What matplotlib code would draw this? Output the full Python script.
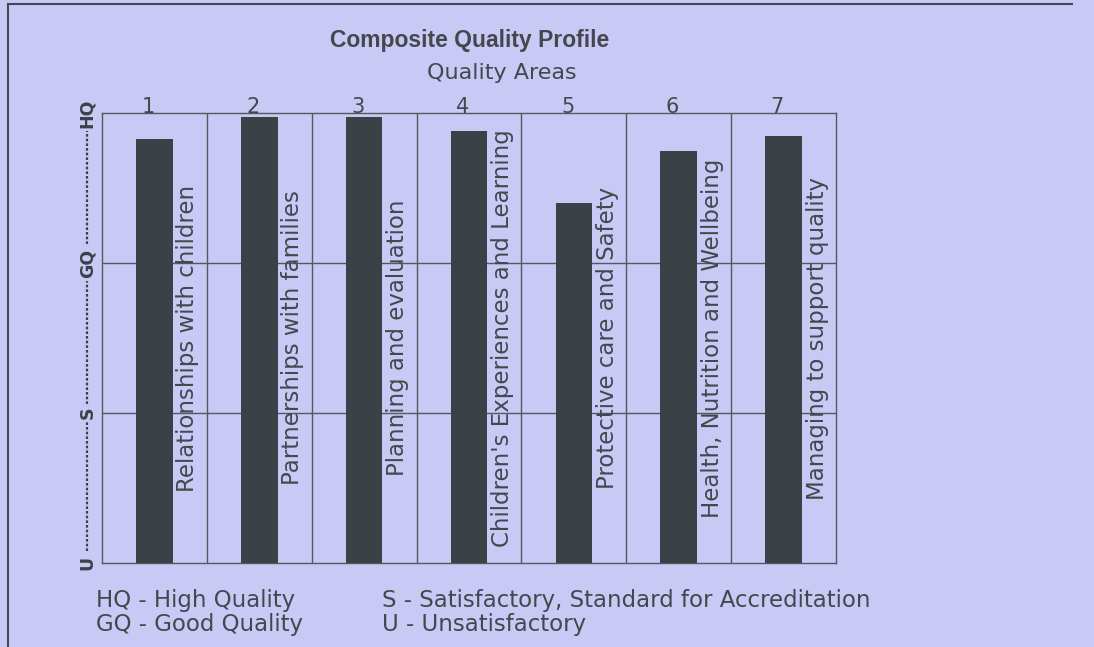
import matplotlib.pyplot as plt
from matplotlib.transforms import blended_transform_factory

# quality areas and their ratings (0 = U, 1 = S, 2 = GQ, 3 = HQ)
areas = [1, 2, 3, 4, 5, 6, 7]
ratings = [2.83, 2.975, 2.975, 2.88, 2.40, 2.75, 2.85]
area_names = ["Relationships with children", "Partnerships with families",
              "Planning and evaluation", "Children's Experiences and Learning",
              "Protective care and Safety", "Health, Nutrition and Wellbeing",
              "Managing to support quality"]
levels = [0, 1, 2, 3]
level_names = ["U", "S", "GQ", "HQ"]

bg = '#c9c9f5'
ink = '#3c4148'
txt = '#45474d'

fig = plt.figure(figsize=(10.94, 6.47), dpi=100, facecolor=bg)
ax = fig.add_axes([102/1094, 1 - 563/647, 734/1094, 450/647])
ax.set_facecolor(bg)

ax.bar(areas, ratings, width=0.35, color=ink, zorder=3)

ax.set_xlim(0.5, 7.5)
ax.set_ylim(0, 3)
for xb in [1.5, 2.5, 3.5, 4.5, 5.5, 6.5]:
    ax.axvline(xb, color='#55585e', lw=1, zorder=1)
for yb in [1, 2]:
    ax.axhline(yb, color='#55585e', lw=1, zorder=1)
for s in ax.spines.values():
    s.set_color('#55585e')
    s.set_linewidth(1)

# area numbers on top
ax.set_xticks([])
ax.set_yticks([])
for a in areas:
    ax.text(a - 0.06, 2.97, str(a), ha='center', va='bottom', fontsize=15,
            color=txt, family='DejaVu Sans')

# rotated area names beside each bar
for a, name in zip(areas, area_names):
    ax.text(a + 0.32, 1.5, name, rotation=90, ha='center', va='center',
            fontsize=16.5, color=txt, family='DejaVu Sans', zorder=4)

# rating scale on the left
tr = blended_transform_factory(ax.transAxes, ax.transData)
xs = -0.02
for lv, nm in zip(levels, level_names):
    ax.text(xs, lv, nm, rotation=90, ha='center', va='center', fontsize=12.5,
            fontweight='bold', color=ink, transform=tr)
gaps = [(0.08, 0.95), (1.06, 1.88), (2.13, 2.88)]
for lo, hi in gaps:
    ax.plot([xs, xs], [lo, hi], transform=tr, clip_on=False, color=ink,
            lw=1.6, ls=(0, (1.2, 0.9)))

fig.text(470/1094, 1 - 40/647, "Composite Quality Profile", ha='center',
         va='center', fontsize=16.5, fontweight='bold', color=txt,
         family='Liberation Sans')
fig.text(502/1094, 1 - 73/647, "Quality Areas", ha='center', va='center',
         fontsize=16, color=txt, family='DejaVu Sans')

legend_lines = [(96, 600, "HQ - High Quality"), (96, 624, "GQ - Good Quality"),
                (382, 600, "S - Satisfactory, Standard for Accreditation"),
                (382, 624, "U - Unsatisfactory")]
for lx, ly, t in legend_lines:
    fig.text(lx/1094, 1 - ly/647, t, ha='left', va='center', fontsize=16.5,
             color=txt, family='DejaVu Sans')

# outer frame
fig.add_artist(plt.Line2D([8/1094, 8/1094], [0, 1 - 4/647], color='#444850',
                          lw=1.5, transform=fig.transFigure))
fig.add_artist(plt.Line2D([8/1094, 1072/1094], [1 - 4/647, 1 - 4/647],
                          color='#444850', lw=1.5, transform=fig.transFigure))

plt.savefig('out.png', dpi=100, facecolor=bg)
